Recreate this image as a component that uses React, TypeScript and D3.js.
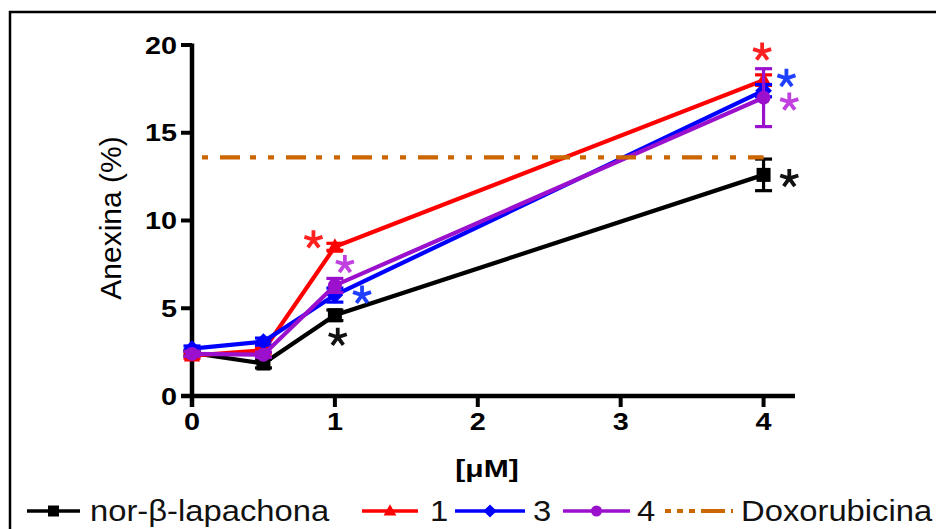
import React from "react";
import * as d3 from "d3";

// ---- data ----
const X_VALUES = [0, 0.5, 1, 4];
const NOR_BETA = [2.45, 1.85, 4.6, 12.6];
const NOR_BETA_ERR = [0.15, 0.25, 0.3, 0.9];
const COMP_1 = [2.3, 2.6, 8.5, 18.0];
const COMP_1_ERR = [0.15, 0.15, 0.2, 0.3];
const COMP_3 = [2.7, 3.1, 5.75, 17.4];
const COMP_3_ERR = [0.15, 0.2, 0.4, 0.35];
const COMP_4 = [2.4, 2.35, 6.3, 17.0];
const COMP_4_ERR = [0.15, 0.15, 0.4, 1.65];
const DOXORUBICINA = 13.6;
const X_TICKS = [0, 1, 2, 3, 4];
const Y_TICKS = [0, 5, 10, 15, 20];
const SERIES_NAMES = ["nor-β-lapachona", "1", "3", "4", "Doxorubicina"];
// significance asterisks (data coords), per series: [at 1 µM, at 4 µM]
const STAR_X = [[1.02, 4.18], [0.85, 3.99], [1.19, 4.16], [1.07, 4.18]];
const STAR_Y = [[3.35, 12.4], [8.9, 19.6], [5.75, 18.1], [7.5, 16.75]];

const FONT = "'Liberation Sans', Arial, sans-serif";

const COLORS = ["#000000", "#ff0000", "#0000ff", "#9a10cc", "#cc6600"];
const STAR_COLORS = ["#111111", "#ff2020", "#2040ff", "#c040e0"];
const SHAPES = ["square", "triangle", "diamond", "circle"];

function Marker({ shape, cx, cy, s, color }: any) {
  if (shape === "square")
    return <rect x={cx - s / 2} y={cy - s / 2} width={s} height={s} fill={color} />;
  if (shape === "triangle")
    return (
      <polygon
        points={`${cx},${cy - s * 0.62} ${cx - s * 0.58},${cy + s * 0.42} ${cx + s * 0.58},${cy + s * 0.42}`}
        fill={color}
      />
    );
  if (shape === "diamond")
    return (
      <polygon
        points={`${cx},${cy - s * 0.6} ${cx + s * 0.6},${cy} ${cx},${cy + s * 0.6} ${cx - s * 0.6},${cy}`}
        fill={color}
      />
    );
  return <circle cx={cx} cy={cy} r={s / 2} fill={color} />;
}

function Star({ cx, cy, color }: any) {
  const r = 9.5;
  const arms = d3.range(5).map((i) => {
    const a = (i * 72 * Math.PI) / 180;
    return `M${cx},${cy}L${cx + r * Math.sin(a)},${cy - r * Math.cos(a)}`;
  });
  return <path d={arms.join("")} stroke={color} strokeWidth={3.8} fill="none" />;
}

export default function App() {
  const W = 936;
  const H = 529;
  const x = d3.scaleLinear().domain([0, 4.22]).range([192, 795]);
  const y = d3.scaleLinear().domain([0, 20]).range([396, 45]);

  const series = [
    { vals: NOR_BETA, err: NOR_BETA_ERR },
    { vals: COMP_1, err: COMP_1_ERR },
    { vals: COMP_3, err: COMP_3_ERR },
    { vals: COMP_4, err: COMP_4_ERR },
  ];

  const line = d3
    .line<number>()
    .x((_, i) => x(X_VALUES[i]))
    .y((d) => y(d));

  const legendItems = [
    { x0: 27, x1: 80, tx: 90 },
    { x0: 362, x1: 418, tx: 430 },
    { x0: 455, x1: 525, tx: 533 },
    { x0: 563, x1: 630, tx: 637 },
    { x0: 665, x1: 733, tx: 741 },
  ];
  const legendY = 511;

  return (
    <svg
      width={W}
      height={H}
      style={{ position: "absolute", left: 0, top: 0, background: "#fff" }}
      fontFamily={FONT}
    >
      <rect width={W} height={H} fill="#fff" />
      {/* frame */}
      <path d={`M10,${H}V12H${W}`} fill="none" stroke="#000" strokeWidth={2.5} />

      {/* axes */}
      <line x1={x(0)} x2={x(0)} y1={y(20) - 1.5} y2={y(0) + 11} stroke="#000" strokeWidth={4.5} />
      <line x1={x(0) - 11} x2={x(4.22)} y1={y(0)} y2={y(0)} stroke="#000" strokeWidth={4.5} />
      {Y_TICKS.map((t) => (
        <g key={"yt" + t}>
          <line x1={x(0) - 11} x2={x(0)} y1={y(t)} y2={y(t)} stroke="#000" strokeWidth={4} />
          <text
            transform={`translate(${x(0) - 15},${y(t) + 8.5}) scale(1.2,1)`}
            textAnchor="end"
            fontSize={24}
            fontWeight="bold"
            fill="#000"
          >
            {t}
          </text>
        </g>
      ))}
      {X_TICKS.map((t) => (
        <g key={"xt" + t}>
          <line x1={x(t)} x2={x(t)} y1={y(0)} y2={y(0) + 11} stroke="#000" strokeWidth={4} />
          <text
            transform={`translate(${x(t)},${430}) scale(1.2,1)`}
            textAnchor="middle"
            fontSize={24}
            fontWeight="bold"
            fill="#000"
          >
            {t}
          </text>
        </g>
      ))}
      <text
        transform={`translate(121,218) rotate(-90)`}
        textAnchor="middle"
        fontSize={30}
        fill="#000"
      >
        Anexina (%)
      </text>
      <text
        transform={`translate(487,477) scale(1.25,1)`}
        textAnchor="middle"
        fontSize={24}
        fontWeight="bold"
        fill="#000"
      >
        [μM]
      </text>

      {/* series lines */}
      {series.map((s, si) => (
        <g key={"s" + si}>
          <path d={line(s.vals) || ""} fill="none" stroke={COLORS[si]} strokeWidth={4.2} strokeLinejoin="miter" />
          {s.vals.map((v, i) => {
            const cx = x(X_VALUES[i]);
            const top = y(v + s.err[i]);
            const bot = y(v - s.err[i]);
            return (
              <g key={i}>
                <line x1={cx} x2={cx} y1={top} y2={bot} stroke={COLORS[si]} strokeWidth={3.2} />
                <line x1={cx - 8.5} x2={cx + 8.5} y1={top} y2={top} stroke={COLORS[si]} strokeWidth={3.2} />
                <line x1={cx - 8.5} x2={cx + 8.5} y1={bot} y2={bot} stroke={COLORS[si]} strokeWidth={3.2} />
                <Marker shape={SHAPES[si]} cx={cx} cy={y(v)} s={14} color={COLORS[si]} />
              </g>
            );
          })}
        </g>
      ))}

      {/* doxorubicina reference */}
      <line
        x1={x(0)}
        x2={x(4)}
        y1={y(DOXORUBICINA)}
        y2={y(DOXORUBICINA)}
        stroke={COLORS[4]}
        strokeWidth={4.2}
        strokeDasharray="6,12,20,10,6,12"
        strokeDashoffset={56}
      />

      {/* asterisks */}
      {STAR_X.map((xs, si) =>
        xs.map((sx, j) => (
          <Star key={`st${si}-${j}`} cx={x(sx)} cy={y(STAR_Y[si][j])} color={STAR_COLORS[si]} />
        ))
      )}

      {/* legend */}
      {legendItems.map((it, i) => {
        const mid = (it.x0 + it.x1) / 2;
        return (
          <g key={"lg" + i}>
            {i < 4 ? (
              <>
                <line x1={it.x0} x2={it.x1} y1={legendY} y2={legendY} stroke={COLORS[i]} strokeWidth={3.5} />
                <Marker shape={SHAPES[i]} cx={mid} cy={legendY} s={11} color={COLORS[i]} />
              </>
            ) : (
              <line
                x1={it.x0}
                x2={it.x1}
                y1={legendY}
                y2={legendY}
                stroke={COLORS[4]}
                strokeWidth={4}
                strokeDasharray="6,6,6,6,6,6,24"
              />
            )}
            <text
              transform={`translate(${it.tx},${521}) scale(1.13,1)`}
              fontSize={29}
              fill="#111"
            >
              {SERIES_NAMES[i]}
            </text>
          </g>
        );
      })}
    </svg>
  );
}
